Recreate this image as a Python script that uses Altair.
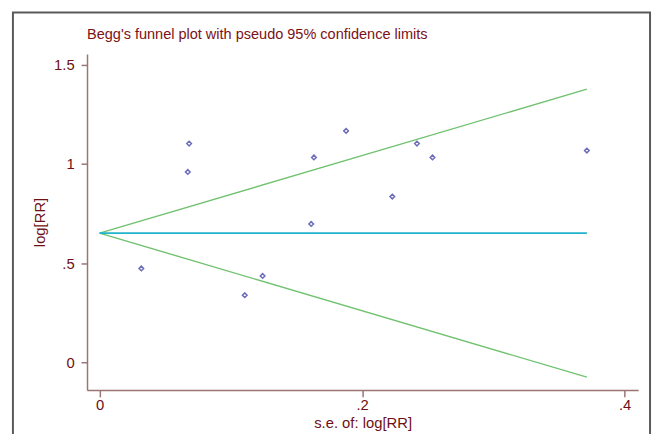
import altair as alt
import pandas as pd

# Study estimates
se = [0.0318, 0.0672, 0.0682, 0.1106, 0.1242, 0.1612, 0.1633, 0.1878, 0.2230, 0.2418, 0.2536, 0.3712]
logrr = [0.473, 0.959, 1.102, 0.338, 0.435, 0.697, 1.032, 1.166, 0.835, 1.102, 1.032, 1.067]

# Pseudo 95% confidence limits and pooled estimate
line_se = [0.0, 0.3712]
upper = [0.651, 1.376]
lower = [0.651, -0.075]
center = [0.651, 0.651]

x_ticks = [0, 0.2, 0.4]
y_ticks = [0, 0.5, 1, 1.5]

title_text = "Begg's funnel plot with pseudo 95% confidence limits"

pts = pd.DataFrame({"se": se, "logrr": logrr})
lines = pd.DataFrame({"se": line_se, "upper": upper, "lower": lower, "center": center})

DARKRED = "#6e1016"
AXIS = "#9c7474"
FONT = "Liberation Sans"

label_expr = "replace(format(datum.value, ''), '0.', '.')"

xscale = alt.Scale(domain=[-0.00956, 0.4103], nice=False, zero=False)
yscale = alt.Scale(domain=[-0.139, 1.553], nice=False, zero=False)

xaxis = alt.Axis(values=x_ticks, labelExpr=label_expr, title="s.e. of: log[RR]",
                 grid=False, tickSize=7, labelPadding=1, titlePadding=3,
                 domainColor=AXIS, tickColor=AXIS, domainWidth=1.5, tickWidth=1.5,
                 labelColor=DARKRED, titleColor=DARKRED, labelFontSize=15, titleFontSize=15,
                 labelFont=FONT, titleFont=FONT, titleFontWeight="normal",
                 labelFlush=False)
yaxis = alt.Axis(values=y_ticks, labelExpr=label_expr, title="log[RR]",
                 grid=False, tickSize=6, labelPadding=7, titlePadding=6,
                 domainColor=AXIS, tickColor=AXIS, domainWidth=1.5, tickWidth=1.5,
                 labelColor=DARKRED, titleColor=DARKRED, labelFontSize=15, titleFontSize=15,
                 labelFont=FONT, titleFont=FONT, titleFontWeight="normal",
                 labelAngle=0, labelFlush=False)

base = alt.Chart(lines)

upper_line = base.mark_line(color="#70c270", strokeWidth=1.4).encode(
    x=alt.X("se:Q", scale=xscale, axis=xaxis),
    y=alt.Y("upper:Q", scale=yscale, axis=yaxis),
)
lower_line = base.mark_line(color="#70c270", strokeWidth=1.4).encode(
    x=alt.X("se:Q", scale=xscale),
    y=alt.Y("lower:Q", scale=yscale),
)
center_line = base.mark_line(color="#1fb3cc", strokeWidth=1.6).encode(
    x=alt.X("se:Q", scale=xscale),
    y=alt.Y("center:Q", scale=yscale),
)

points = alt.Chart(pts).mark_point(shape="diamond", filled=False, color="#2f2f9c",
                                   size=22, strokeWidth=1.5).encode(
    x=alt.X("se:Q", scale=xscale),
    y=alt.Y("logrr:Q", scale=yscale),
)

one = pd.DataFrame({"t": [title_text]})

frame = alt.Chart(one).mark_rect(
    fill=None, stroke="#5a5a5a", strokeWidth=2
).encode(
    x=alt.value(-75), x2=alt.value(570), y=alt.value(-42), y2=alt.value(430)
)

title = alt.Chart(one).mark_text(
    align="left", baseline="middle", font=FONT, fontSize=14.7, color="#7a1216"
).encode(
    text="t:N", x=alt.value(0), y=alt.value(-19)
)

chart = alt.layer(frame, title, upper_line, lower_line, center_line, points).properties(
    width=558,
    height=340,
    padding={"left": 80, "top": 44, "right": 15, "bottom": 42},
    autosize=alt.AutoSizeParams(type="none"),
).configure_view(stroke=None)

chart.save("out.html", embed_options={"renderer": "svg", "actions": False})
